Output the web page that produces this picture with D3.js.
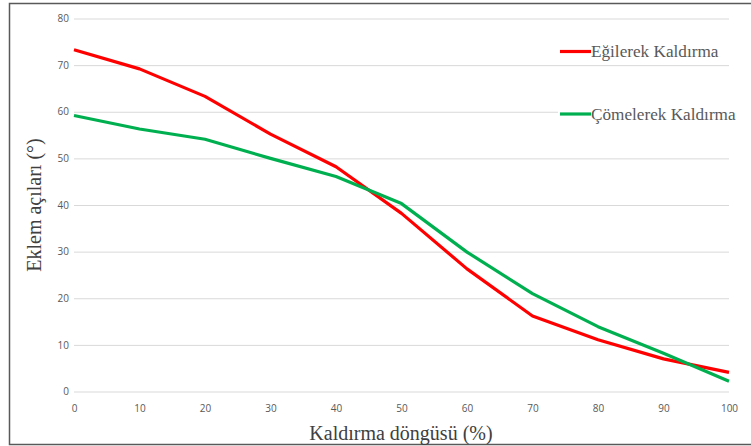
<!DOCTYPE html>
<html>
<head>
<meta charset="utf-8">
<script src="https://cdn.jsdelivr.net/npm/d3@7"></script>
<style>
  html, body { margin: 0; padding: 0; background: #fff; }
  svg { display: block; }
</style>
</head>
<body>
<svg id="chart" width="751" height="446"></svg>
<script>
// Lifting cycle (%) on the x axis
const cycle = [0, 10, 20, 30, 40, 50, 60, 70, 80, 90, 100];
// Joint angles (°) for each lifting technique
const stoopLift = [73.3, 69.2, 63.3, 55.2, 48.2, 38.2, 26.3, 16.2, 11.1, 7.0, 4.1];
const squatLift = [59.2, 56.3, 54.1, 50.0, 46.1, 40.3, 29.9, 21.0, 13.9, 8.2, 2.2];
const seriesNames = ["Eğilerek Kaldırma", "Çömelerek Kaldırma"];
const seriesColors = ["#ff0000", "#00b050"];
const xTicks = [0, 10, 20, 30, 40, 50, 60, 70, 80, 90, 100];
const yTicks = [0, 10, 20, 30, 40, 50, 60, 70, 80];

const svg = d3.select("#chart");
const W = 751, H = 446;

// outer frame
svg.append("rect")
  .attr("x", 9.5).attr("y", 3.5)
  .attr("width", W + 10).attr("height", 441)
  .attr("fill", "#fff")
  .attr("stroke", "#595959").attr("stroke-width", 1.5);

const plot = { left: 74, right: 729, top: 18.5, bottom: 391.5 };
const x = d3.scaleLinear().domain([0, 100]).range([plot.left, plot.right]);
const y = d3.scaleLinear().domain([0, 80]).range([plot.bottom, plot.top]);

// horizontal gridlines
svg.append("g")
  .attr("transform", `translate(${plot.left},0)`)
  .call(d3.axisLeft(y).tickValues(yTicks).tickSize(-(plot.right - plot.left)).tickFormat(""))
  .call(g => g.select(".domain").remove())
  .call(g => g.selectAll("line").attr("stroke", "#d9d9d9").attr("stroke-width", 1));

// y tick labels
svg.append("g")
  .attr("transform", `translate(${plot.left - 5},0)`)
  .call(d3.axisLeft(y).tickValues(yTicks).tickSize(0).tickPadding(0))
  .call(g => g.select(".domain").remove())
  .call(g => g.selectAll("text")
    .attr("font-family", "'Open Sans', sans-serif")
    .attr("font-size", 10).attr("fill", "#595959"));

// x tick labels
svg.append("g")
  .attr("transform", `translate(0,${plot.bottom + 8})`)
  .call(d3.axisBottom(x).tickValues(xTicks).tickSize(0).tickPadding(5))
  .call(g => g.select(".domain").remove())
  .call(g => g.selectAll("text")
    .attr("font-family", "'Open Sans', sans-serif")
    .attr("font-size", 10).attr("fill", "#595959"));

// axis titles
svg.append("text")
  .attr("x", 401).attr("y", 440)
  .attr("text-anchor", "middle")
  .attr("font-family", "'Liberation Serif', serif")
  .attr("font-size", 20).attr("fill", "#404040")
  .text("Kaldırma döngüsü (%)");

svg.append("text")
  .attr("transform", "translate(41,205) rotate(-90)")
  .attr("text-anchor", "middle")
  .attr("font-family", "'Liberation Serif', serif")
  .attr("font-size", 20).attr("fill", "#404040")
  .text("Eklem açıları (°)");

// lines
const line = d3.line().x((d, i) => x(cycle[i])).y(d => y(d));
[stoopLift, squatLift].forEach((vals, k) => {
  svg.append("path")
    .datum(vals)
    .attr("d", line)
    .attr("fill", "none")
    .attr("stroke", seriesColors[k])
    .attr("stroke-width", 3.2)
    .attr("stroke-linejoin", "round");
});

// legend
const legend = svg.append("g");
const legendRows = [51.5, 114];
legend.append("rect")
  .attr("x", 558).attr("y", 100).attr("width", 180).attr("height", 28)
  .attr("fill", "#fff");
seriesNames.forEach((name, k) => {
  legend.append("line")
    .attr("x1", 560).attr("x2", 591)
    .attr("y1", legendRows[k]).attr("y2", legendRows[k])
    .attr("stroke", seriesColors[k]).attr("stroke-width", 3.2);
  legend.append("text")
    .attr("x", 591).attr("y", legendRows[k] + 5.5)
    .attr("font-family", "'Liberation Serif', serif")
    .attr("font-size", 17.2).attr("fill", "#595959")
    .text(name);
});
</script>
</body>
</html>
